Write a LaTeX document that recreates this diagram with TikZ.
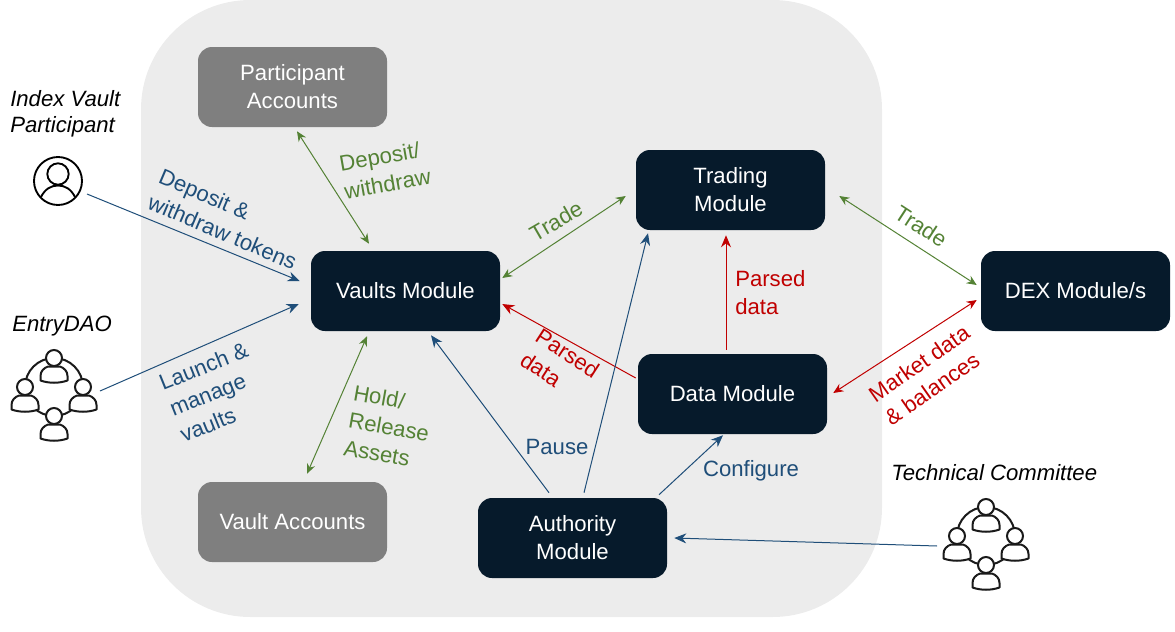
\documentclass[tikz,border=0pt]{standalone}
\usepackage{fontspec}
\setmainfont{Liberation Sans}
\usetikzlibrary{arrows.meta,calc}
\definecolor{panel}{HTML}{ECECEC}
\definecolor{darkbox}{HTML}{061A2B}
\definecolor{greybox}{HTML}{7F7F7F}
\definecolor{cgreen}{HTML}{548235}
\definecolor{cblue}{HTML}{1F4E79}
\definecolor{cred}{HTML}{C00000}
\definecolor{icon}{HTML}{1A1A1A}
\tikzset{
  x=0.75pt,y=-0.75pt,
  box/.style={rounded corners=10.5pt,minimum width=141.75pt,minimum height=60pt,inner sep=0pt,
    align=center,text=white,font=\fontsize{16.6}{21}\selectfont},
  darkb/.style={box,fill=darkbox},
  greyb/.style={box,fill=greybox},
  lab/.style={inner sep=0pt,align=center,font=\fontsize{16.6}{21}\selectfont},
  actor/.style={inner sep=0pt,align=left,font=\fontsize{16.6}{19.8}\selectfont\itshape,text=black},
  tip/.style={-{Stealth[length=9pt,width=7.5pt]}},
  tips/.style={{Stealth[length=7.5pt,width=6.5pt]}-{Stealth[length=7.5pt,width=6.5pt]}},
  link/.style={line width=0.75pt},
  hub/.style={circle,minimum size=43.5pt,inner sep=0pt,draw=icon,line width=1.5pt},
  pics/member/.style={code={
    \draw[icon,line width=1.5pt,fill=white,line join=round]
      (-13.5,22.5) -- (-13.5,18) .. controls (-13.5,13) and (-10,10) .. (-6,8.5) -- (6,8.5) .. controls (10,10) and (13.5,13) .. (13.5,18) -- (13.5,22.5)
      .. controls (5,25.5) and (-5,25.5) .. (-13.5,22.5) -- cycle;
    \draw[icon,line width=1.5pt,fill=white] (0,0) circle (6pt);
  }},
  pics/circle of members/.style={code={
    \path (0,-29) pic {member};
    \path (-29,0) pic {member};
    \path (29,0) pic {member};
    \path (0,29) pic {member};
  }}
}
\begin{document}
\begin{tikzpicture}
\useasboundingbox (0,0) rectangle (1175,632);
\fill[panel,rounded corners=82pt] (141,0) rectangle (882,617);

\node[greyb] (pa) at (292.5,87) {Participant\\Accounts};
\node[darkb] (vm) at (405.5,291) {Vaults Module};
\node[greyb] (va) at (292.5,522) {Vault Accounts};
\node[darkb] (tm) at (730.5,190) {Trading\\Module};
\node[darkb] (dm) at (732.5,394) {Data Module};
\node[darkb] (am) at (572.5,538) {Authority\\Module};
\node[darkb] (dex) at (1075.5,291) {DEX Module/s};

% actors
\node[actor,anchor=west] (ivpt) at (10,114) {Index Vault\\Participant};
\node[actor,anchor=west] (edt) at (12,326) {EntryDAO};
\node[actor,anchor=west] (tct) at (891,473) {Technical Committee};

\node[circle,minimum size=36pt,inner sep=0pt,draw=black,line width=1.4pt] (ivp) at (58,181) {};
\draw[black,line width=1.4pt] (58,174) circle (8pt);
\draw[black,line width=1.4pt] (41,197) .. controls (45,189) and (51,185.5) .. (58,185.5) .. controls (65,185.5) and (71,189) .. (75,197);

\node[hub] (ed) at (54,387) {};
\path (ed.center) pic {circle of members};
\node[hub] (tc) at (986,536) {};
\path (tc.center) pic {circle of members};

% connectors
\draw[link,cblue,tip] ($(ivp.center)+(29,13)$) -- ($(vm.west)+(-11,-10)$);
\draw[link,cblue,tip] ($(ed.center)+(46,4)$) -- ($(vm.west)+(-12,13)$);
\draw[link,cgreen,tips] ($(pa.south)+(4.5,4)$) -- ($(vm.north)+(-36.5,-7)$);
\draw[link,cgreen,tips] ($(vm.south)+(-38.5,5)$) -- ($(va.north)+(14.5,-8)$);
\draw[link,cgreen,tips] ($(vm.east)+(2,-13)$) -- ($(tm.west)+(-10,6)$);
\draw[link,cgreen,tips] ($(tm.east)+(14,6)$) -- ($(dex.west)+(-4,-6)$);
\draw[link,cred,tips] ($(dm.east)+(6,-1)$) -- ($(dex.west)+(-4,9)$);
\draw[link,cred,tip] ($(dm.north)+(-6.5,-4)$) -- ($(tm.south)+(-4.5,5)$);
\draw[link,cred,tip] ($(dm.west)+(-2,-16)$) -- ($(vm.east)+(2,13)$);
\draw[link,cblue,tip] ($(am.north)+(-23.5,-5)$) -- ($(vm.south)+(25.5,4)$);
\draw[link,cblue,tip] ($(am.north)+(11.5,-5)$) -- ($(tm.south)+(-82.5,3)$);
\draw[link,cblue,tip] ($(am.north)+(86.5,-3)$) -- ($(dm.south)+(-9.5,1)$);
\draw[link,cblue,tip] ($(tc.center)+(-49,10)$) -- ($(am.east)+(7,0)$);

% labels
\node[lab,text=cblue,rotate=-23,align=left] (l1) at (228,219) {Deposit \&\\withdraw tokens};
\node[lab,text=cblue,rotate=22,align=left] (l2) at (214,392) {Launch \&\\manage\\vaults};
\node[lab,text=cgreen,rotate=10,align=left] (l3) at (385,170) {Deposit/\\withdraw};
\node[lab,text=cgreen,rotate=-10,align=left] (l4) at (389,427) {Hold/\\Release\\Assets};
\node[lab,text=cgreen,rotate=30] (l5) at (556,221) {Trade};
\node[lab,text=cgreen,rotate=-33] (l6) at (921,226) {Trade};
\node[lab,text=cred,align=left,anchor=west] (l7) at (735,293) {Parsed\\data};
\node[lab,text=cred,rotate=-33,align=left] (l8) at (560,365) {Parsed\\data};
\node[lab,text=cred,rotate=35,align=left] (l9) at (927,375) {Market data\\\& balances};
\node[lab,text=cblue] (l10) at (557,447) {Pause};
\node[lab,text=cblue] (l11) at (751,471) {Configure};
\end{tikzpicture}
\end{document}
